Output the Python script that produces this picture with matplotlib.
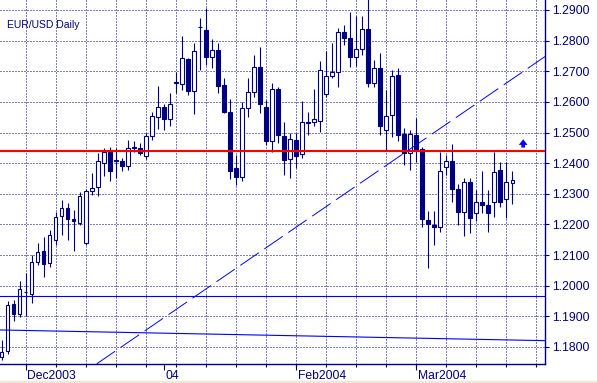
import matplotlib
matplotlib.use("Agg")
import matplotlib.pyplot as plt
import numpy as np
import pandas as pd
from matplotlib import transforms
from matplotlib.patches import Rectangle

plt.rcParams['font.family'] = ['Liberation Sans', 'DejaVu Sans']
plt.rcParams['lines.scale_dashes'] = False

NAVY = "#000080"

# ---- data -------------------------------------------------------------
dates = pd.bdate_range("2003-11-25", "2004-03-23")

opens = [1.1768, 1.1788, 1.1941, 1.1908, 1.1978, 1.1974, 1.2077, 1.2114, 1.2074, 1.2150,
         1.2226, 1.2253, 1.2219, 1.2206, 1.2139, 1.2308, 1.2322, 1.2402, 1.2443, 1.2407,
         1.2408, 1.2392, 1.2451, 1.2449, 1.2422, 1.2489, 1.2552, 1.2582, 1.2544, 1.2663,
         1.2658, 1.2739, 1.2637, 1.2843, 1.2835, 1.2746, 1.2770, 1.2655, 1.2568, 1.2384,
         1.2355, 1.2579, 1.2632, 1.2713, 1.2583, 1.2471, 1.2641, 1.2489, 1.2413, 1.2476,
         1.2430, 1.2534, 1.2533, 1.2539, 1.2626, 1.2685, 1.2697, 1.2827, 1.2808, 1.2748,
         1.2772, 1.2837, 1.2663, 1.2710, 1.2509, 1.2558, 1.2688, 1.2496, 1.2433, 1.2492,
         1.2447, 1.2213, 1.2199, 1.2192, 1.2386, 1.2408, 1.2316, 1.2242, 1.2340, 1.2237,
         1.2273, 1.2262, 1.2272, 1.2378, 1.2283, 1.2335]
highs = [1.1824, 1.1949, 1.1954, 1.2016, 1.2041, 1.2101, 1.2141, 1.2160, 1.2183, 1.2242,
         1.2280, 1.2270, 1.2248, 1.2307, 1.2315, 1.2368, 1.2434, 1.2449, 1.2454, 1.2449,
         1.2416, 1.2476, 1.2474, 1.2465, 1.2500, 1.2568, 1.2652, 1.2593, 1.2630, 1.2699,
         1.2815, 1.2743, 1.2793, 1.2874, 1.2906, 1.2805, 1.2792, 1.2678, 1.2610, 1.2427,
         1.2601, 1.2678, 1.2753, 1.2778, 1.2606, 1.2661, 1.2647, 1.2536, 1.2500, 1.2498,
         1.2603, 1.2568, 1.2641, 1.2734, 1.2766, 1.2791, 1.2840, 1.2851, 1.2894, 1.2880,
         1.2880, 1.2935, 1.2737, 1.2759, 1.2639, 1.2704, 1.2710, 1.2514, 1.2509, 1.2548,
         1.2454, 1.2245, 1.2245, 1.2438, 1.2427, 1.2463, 1.2332, 1.2351, 1.2353, 1.2313,
         1.2373, 1.2313, 1.2438, 1.2405, 1.2405, 1.2376]
lows = [1.1759, 1.1778, 1.1884, 1.1897, 1.1902, 1.1944, 1.2069, 1.2028, 1.2061, 1.2134,
        1.2166, 1.2150, 1.2112, 1.2199, 1.2134, 1.2297, 1.2294, 1.2357, 1.2343, 1.2351,
        1.2376, 1.2378, 1.2438, 1.2427, 1.2412, 1.2476, 1.2510, 1.2509, 1.2522, 1.2630,
        1.2639, 1.2623, 1.2560, 1.2704, 1.2721, 1.2711, 1.2630, 1.2564, 1.2348, 1.2329,
        1.2343, 1.2551, 1.2615, 1.2563, 1.2460, 1.2438, 1.2465, 1.2362, 1.2351, 1.2384,
        1.2416, 1.2492, 1.2520, 1.2503, 1.2617, 1.2679, 1.2648, 1.2786, 1.2715, 1.2718,
        1.2753, 1.2650, 1.2650, 1.2492, 1.2444, 1.2487, 1.2471, 1.2395, 1.2378, 1.2405,
        1.2193, 1.2059, 1.2134, 1.2174, 1.2362, 1.2272, 1.2199, 1.2161, 1.2172, 1.2210,
        1.2237, 1.2175, 1.2224, 1.2257, 1.2221, 1.2267]
closes = [1.1783, 1.1936, 1.1908, 1.1989, 1.1980, 1.2076, 1.2109, 1.2071, 1.2165, 1.2224,
          1.2253, 1.2218, 1.2210, 1.2293, 1.2310, 1.2319, 1.2408, 1.2437, 1.2373, 1.2409,
          1.2392, 1.2449, 1.2453, 1.2433, 1.2489, 1.2554, 1.2582, 1.2545, 1.2593, 1.2665,
          1.2743, 1.2637, 1.2766, 1.2846, 1.2746, 1.2770, 1.2652, 1.2568, 1.2373, 1.2355,
          1.2579, 1.2632, 1.2713, 1.2593, 1.2471, 1.2641, 1.2493, 1.2409, 1.2478, 1.2425,
          1.2536, 1.2531, 1.2544, 1.2704, 1.2685, 1.2697, 1.2827, 1.2808, 1.2746, 1.2772,
          1.2837, 1.2663, 1.2710, 1.2522, 1.2554, 1.2685, 1.2492, 1.2433, 1.2496, 1.2444,
          1.2218, 1.2202, 1.2192, 1.2375, 1.2408, 1.2316, 1.2242, 1.2340, 1.2221, 1.2273,
          1.2262, 1.2237, 1.2370, 1.2272, 1.2337, 1.2346]

month_labels = ["Dec2003", "04", "Feb2004", "Mar2004"]
price_ticks = [1.18, 1.19, 1.20, 1.21, 1.22, 1.23, 1.24, 1.25, 1.26, 1.27, 1.28, 1.29]

resistance_level = 1.2441      # red line
support_level = 1.19666        # blue horizontal line
slow_line = (1.18556, 1.18207) # blue nearly-flat line (left edge, right edge)
trend_pts = ((15.84, 1.1745), (90.43, 1.2748))  # dashed trend line (index, price)
arrow_pos = (86.8, 1.2451, 1.2478)  # index, base price, tip price

# ---- figure -----------------------------------------------------------
fig = plt.figure(figsize=(5.97, 3.83), dpi=100)
ax = fig.add_axes([0, 19 / 383, 545 / 597, 364 / 383])

o = np.array(opens); h = np.array(highs); l = np.array(lows); c = np.array(closes)
n = len(o)
idx = np.arange(n)

XMIN, XMAX = -0.25, 90.43
ax.set_xlim(XMIN, XMAX)
ax.set_ylim(1.17445, 1.29326)

# wicks and bodies
ax.vlines(idx, l, h, color=NAVY, lw=0.8, zorder=3)
up = c >= o
bottoms = np.minimum(o, c)
heights = np.maximum(np.abs(c - o), 0.00003)
ax.bar(idx, heights, bottom=bottoms, width=0.62,
       color=np.where(up, "white", NAVY), edgecolor=NAVY, linewidth=0.8, zorder=4)

# grid / ticks
ext_dates = pd.bdate_range("2003-11-25", "2004-04-05")
mondays = [i for i, d in enumerate(ext_dates) if d.weekday() == 0 and i <= XMAX]
month_pos = []
prev = None
for i, d in enumerate(dates):
    if prev is not None and d.month != prev:
        month_pos.append(i)
    prev = d.month

ax.xaxis.remove_overlapping_locs = False
ax.set_xticks(month_pos)
ax.set_xticklabels([])
ax.set_xticks(mondays, minor=True)
ax.tick_params(axis="x", which="major", length=4.3, color=NAVY, width=0.8, direction="out")
ax.tick_params(axis="x", which="minor", length=2.2, color=NAVY, width=0.8, direction="out")
ax.xaxis.grid(True, which="minor", linestyle=(0, (0.72, 1.44)), color=NAVY, lw=0.72)

ax.yaxis.tick_right()
ax.set_yticks(price_ticks)
ax.set_yticklabels([f"{v:.4f}" for v in price_ticks])
ax.tick_params(axis="y", length=3.2, pad=1.6, color=NAVY, width=0.8,
               labelsize=8.7, labelcolor=NAVY)
ax.yaxis.grid(True, linestyle=(0, (0.72, 1.44)), color=NAVY, lw=0.72)
ax.set_axisbelow(True)

for s in ["left", "top"]:
    ax.spines[s].set_visible(False)
for s in ["right", "bottom"]:
    ax.spines[s].set_color(NAVY)
    ax.spines[s].set_linewidth(1.0)

# month labels
trans = transforms.blended_transform_factory(ax.transData, ax.transAxes)
for pos, lab in zip(month_pos, month_labels):
    ax.text(pos + 0.28, -15.3 / 364, lab, transform=trans, ha="left", va="baseline",
            fontsize=8.7, color=NAVY)

# annotation lines
ax.axhline(resistance_level, color="red", lw=1.5, zorder=6)
ax.axhline(support_level, color="blue", lw=0.8, zorder=6)
ax.plot([XMIN, XMAX], list(slow_line), color="blue", lw=0.8, zorder=6)
ax.plot([trend_pts[0][0], trend_pts[1][0]], [trend_pts[0][1], trend_pts[1][1]],
        color="blue", lw=0.7, linestyle=(0, (16.1, 4.8)), zorder=6)
ax.annotate("", xy=(arrow_pos[0], arrow_pos[2]), xytext=(arrow_pos[0], arrow_pos[1]),
            arrowprops=dict(arrowstyle="simple,head_length=0.45,head_width=0.7,tail_width=0.3",
                            mutation_scale=9, color="blue", lw=0,
                            shrinkA=0, shrinkB=0), zorder=7)

ax.text(7.3 / 545, 1 - 28 / 364, "EUR/USD Daily", transform=ax.transAxes,
        ha="left", va="baseline", fontsize=7.5, color=NAVY)

fig.add_artist(Rectangle((0, 0), 1, 2 / 383, transform=fig.transFigure,
                         color="#ece9d8", zorder=0))

fig.savefig("out.png", dpi=100)
